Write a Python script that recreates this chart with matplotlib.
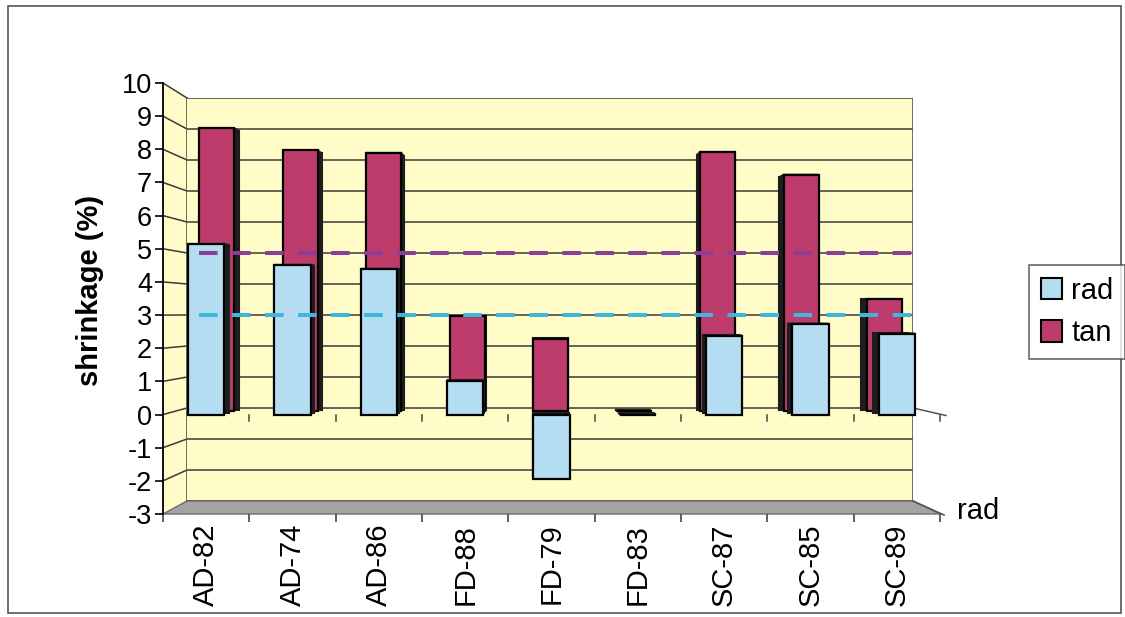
import matplotlib
matplotlib.use('Agg')
import matplotlib.pyplot as plt
from matplotlib.patches import Polygon, Rectangle, Patch

plt.rcParams['font.family'] = ['Liberation Sans', 'DejaVu Sans']

# ---------------- data ----------------
categories = ['AD-82', 'AD-74', 'AD-86', 'FD-88', 'FD-79', 'FD-83', 'SC-87', 'SC-85', 'SC-89']
rad = [5.15, 4.52, 4.40, 1.00, -1.93, 0.0, 2.38, 2.74, 2.44]
tan = [8.83, 8.14, 8.06, 2.97, 2.26, 0.0, 8.09, 7.38, 3.50]
yticks = list(range(-3, 11))
rad_ref = 3.0
tan_ref = 5.0
series_names = ['rad', 'tan']
depth_label = 'rad'
ylabel = 'shrinkage (%)'

# ---------------- style ----------------
RAD_C = '#B5DDF2'
TAN_C = '#BE3C6C'
SIDE_C = '#1E1E1E'
WALL_C = '#FFFCC8'
FLOOR_C = '#A4A4A4'
GRID_C = '#3A3A3A'
RAD_REF_C = '#3FB6DC'
TAN_REF_C = '#8B3D98'

W, H = 1125, 617
fig = plt.figure(figsize=(W / 100, H / 100), dpi=100)

# pseudo-3D geometry: back plane (d=0) and front plane (d=1), in pixels
BACK = dict(left=187, right=913, top=98, bottom=501)
FRONT = dict(left=163, right=940, top=83, bottom=514)
YMIN, YMAX = yticks[0], yticks[-1]
N = len(categories)


def plane_rect(d):
    l = BACK['left'] + (FRONT['left'] - BACK['left']) * d
    r = BACK['right'] + (FRONT['right'] - BACK['right']) * d
    t = BACK['top'] + (FRONT['top'] - BACK['top']) * d
    b = BACK['bottom'] + (FRONT['bottom'] - BACK['bottom']) * d
    return [l / W, 1 - b / H, (r - l) / W, (b - t) / H]


def layer(d):
    ax = fig.add_axes(plane_rect(d))
    ax.set_xlim(0, N)
    ax.set_ylim(YMIN, YMAX)
    ax.patch.set_alpha(0)
    for s in ax.spines.values():
        s.set_visible(False)
    ax.set_xticks([])
    ax.set_yticks([])
    return ax


def pixel_axes():
    ax = fig.add_axes([0, 0, 1, 1])
    ax.set_xlim(0, W)
    ax.set_ylim(H, 0)
    ax.axis('off')
    ax.patch.set_alpha(0)
    return ax


def px(ax, x, y):
    X, Y = ax.transData.transform((x, y))
    return X, H - Y


# background axes in pixel space (decorations)
bg = pixel_axes()
bg.add_patch(Rectangle((8, 6), 1113, 607, fill=False, edgecolor='#555555', lw=1.2))

back = layer(0.0)
front_ref = layer(1.0)

# back wall
back.patch.set_alpha(1)
back.patch.set_facecolor(WALL_C)
for v in yticks:
    back.axhline(v, color=GRID_C, lw=1.1, zorder=1)
back.axvline(N, color='#555555', lw=1.2)

# left wall
lw_poly = [px(front_ref, 0, YMAX), px(back, 0, YMAX), px(back, 0, YMIN), px(front_ref, 0, YMIN)]
bg.add_patch(Polygon(lw_poly, closed=True, facecolor=WALL_C, edgecolor='none'))
for v in yticks[1:]:
    (x0, y0), (x1, y1) = px(front_ref, 0, v), px(back, 0, v)
    bg.plot([x0, x1], [y0, y1], color=GRID_C, lw=1.1)
(x0, y0), (x1, y1) = px(back, 0, YMAX), px(back, 0, YMIN)
bg.plot([x0, x1], [y0, y1], color='#555555', lw=1.2)

# floor
fl_poly = [px(back, 0, YMIN), px(back, N, YMIN), px(front_ref, N, YMIN), px(front_ref, 0, YMIN)]
bg.add_patch(Polygon(fl_poly, closed=True, facecolor=FLOOR_C, edgecolor='#6E6E6E', lw=1))
(x0, y0), (x1, y1) = px(back, N, YMIN), px(front_ref, N, YMIN)
bg.plot([x0, x1 + 4], [y0, y1 + 1], color='#555555', lw=1.2)

# right edge of zero plane
(x0, y0), (x1, y1) = px(back, N, 0), px(front_ref, N, 0)
bg.plot([x0, x1 + 6], [y0, y1 + 1], color='#555555', lw=1.1)

# bars: back face (dark), top face, then front face; back row (tan) first
xs = [i + 0.5 for i in range(N)]
BW = 0.42


def bar_row(values, d_back, d_front, color):
    ab = layer(d_back)
    ab.bar(xs, values, width=BW, color=SIDE_C, edgecolor=SIDE_C, lw=1.5)
    af_probe = layer(d_front)
    tops = pixel_axes()
    for x, v in zip(xs, values):
        t = max(v, 0)
        poly = [px(af_probe, x - BW / 2, t), px(af_probe, x + BW / 2, t),
                px(ab, x + BW / 2, t), px(ab, x - BW / 2, t)]
        tops.add_patch(Polygon(poly, closed=True, facecolor=SIDE_C, edgecolor=SIDE_C, lw=1.2))
    af = layer(d_front)
    af.bar(xs, values, width=BW, color=color, edgecolor='black', lw=1.6)
    return af


bar_row(tan, 0.24, 0.5, TAN_C)
bar_row(rad, 0.74, 1.0, RAD_C)

# front axis, ticks and labels
front = layer(1.0)
front.spines['left'].set_visible(True)
front.spines['left'].set_linewidth(1.3)
front.set_yticks(yticks)
front.set_yticklabels([str(v) for v in yticks], fontsize=19.5)
front.tick_params(axis='y', length=6, width=1.2, pad=2)
front.set_xticks(range(N + 1))
front.set_xticklabels([''] * (N + 1))
front.set_xticks(xs, minor=True)
front.set_xticklabels(categories, minor=True, rotation=90, fontsize=21)
front.tick_params(axis='x', which='major', length=6, width=1.2, direction='out', color='#444444')
front.tick_params(axis='x', which='minor', length=0, pad=7)
for b in range(1, N + 1):
    front.plot([b, b], [0, -0.18], color='#444444', lw=1.1, clip_on=False)
front.text(N + 0.2, YMIN + 0.1, depth_label, fontsize=21, ha='left', va='center', clip_on=False)

# reference lines drawn on top
ref = layer(0.0)
ref.hlines(tan_ref, 0.15, N, color=TAN_REF_C, lw=2.9, linestyles=[(0, (4.6, 3.6))])
ref.hlines(rad_ref, 0.15, N, color=RAD_REF_C, lw=2.9, linestyles=[(0, (4.6, 3.6))])

fig.text(90 / W, 1 - 290 / H, ylabel, rotation=90, fontsize=21, fontweight='bold',
         ha='center', va='center')

handles = [Patch(facecolor=RAD_C, edgecolor='black', lw=1.5),
           Patch(facecolor=TAN_C, edgecolor='black', lw=1.5)]
leg = fig.legend(handles, series_names, loc='center', bbox_to_anchor=(1077 / W, 1 - 312 / H),
                 fontsize=21, frameon=True, fancybox=False, edgecolor='#444444',
                 handlelength=0.75, handleheight=0.75, handletextpad=0.3,
                 labelspacing=0.5, borderpad=0.4, borderaxespad=0)
leg.get_frame().set_linewidth(1.2)

fig.savefig('out.png', dpi=100)
